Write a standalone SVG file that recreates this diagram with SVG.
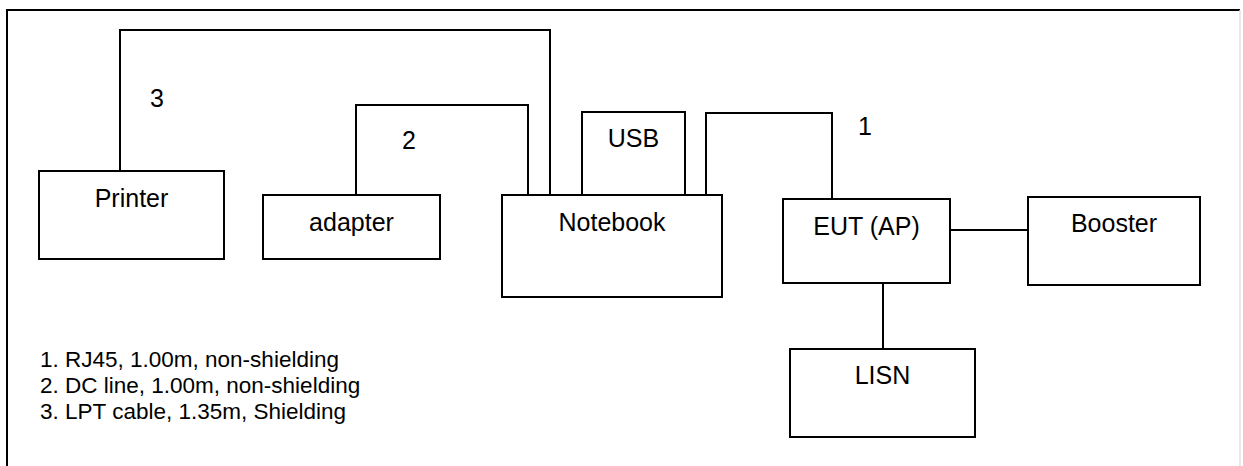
<svg xmlns="http://www.w3.org/2000/svg" width="1243" height="466" viewBox="0 0 1243 466">
<style>
.box{fill:#fff;stroke:#000;stroke-width:2}
.wire{fill:none;stroke:#000;stroke-width:2}
.lbl{font-family:"Liberation Sans",Arial,sans-serif;font-size:25px;fill:#000;text-anchor:middle}
.num{font-family:"Liberation Sans",Arial,sans-serif;font-size:25px;fill:#000}
.leg{font-family:"Liberation Sans",Arial,sans-serif;font-size:22.5px;fill:#000}
</style>
<rect width="1243" height="466" fill="#fff"/>
<g id="frame">
<path d="M7,466 V10 H1240" fill="none" stroke="#000" stroke-width="2"/>
<line x1="1240" y1="10" x2="1240" y2="466" stroke="#e2e2e2" stroke-width="1.5"/>
</g>
<g id="connectors">
<path class="wire" d="M120,171 V30 H550 V195"/>
<path class="wire" d="M356,195 V105 H528 V195"/>
<path class="wire" d="M706,195 V113 H832 V199"/>
<line class="wire" x1="950" y1="230" x2="1028" y2="230"/>
<line class="wire" x1="883" y1="283" x2="883" y2="349"/>
<text class="num" x="150" y="107">3</text>
<text class="num" x="402" y="149">2</text>
<text class="num" x="858" y="135">1</text>
</g>
<g id="printer">
<rect class="box" x="39" y="171" width="185" height="88"/>
<text class="lbl" x="131.5" y="207">Printer</text>
</g>
<g id="adapter">
<rect class="box" x="263" y="195" width="177" height="64"/>
<text class="lbl" x="351.5" y="231">adapter</text>
</g>
<g id="notebook">
<rect class="box" x="502" y="195" width="220" height="102"/>
<text class="lbl" x="612" y="231">Notebook</text>
</g>
<g id="usb">
<rect class="box" x="582" y="112" width="103" height="83"/>
<text class="lbl" x="633.5" y="147">USB</text>
</g>
<g id="eut">
<rect class="box" x="783" y="199" width="167" height="84"/>
<text class="lbl" x="866.5" y="235">EUT (AP)</text>
</g>
<g id="booster">
<rect class="box" x="1028" y="197" width="172" height="88"/>
<text class="lbl" x="1114" y="232">Booster</text>
</g>
<g id="lisn">
<rect class="box" x="790" y="349" width="185" height="88"/>
<text class="lbl" x="882.5" y="384">LISN</text>
</g>
<g id="legend">
<text class="leg" x="40" y="367">1. RJ45, 1.00m, non-shielding</text>
<text class="leg" x="40" y="393">2. DC line, 1.00m, non-shielding</text>
<text class="leg" x="40" y="419">3. LPT cable, 1.35m, Shielding</text>
</g>
</svg>
